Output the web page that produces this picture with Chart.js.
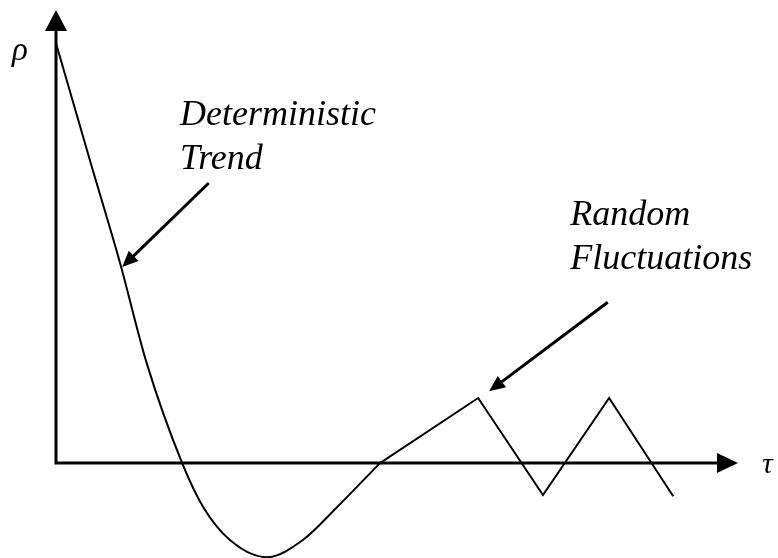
<!DOCTYPE html>
<html>
<head>
<meta charset="utf-8">
<script src="https://cdn.jsdelivr.net/npm/chart.js@4/dist/chart.umd.min.js"></script>
<style>
  html, body { margin: 0; padding: 0; background: #fff; }
  #wrap { width: 778px; height: 558px; }
</style>
</head>
<body>
<div id="wrap"><canvas id="acf"></canvas></div>
<script>
// deterministic trend (smooth part)
const trendTau = [0, 0.51, 0.94, 1.33, 1.85, 2.16, 2.55, 3.09, 3.62, 4.12, 4.75];
const trendRho = [1.0, 0.714, 0.476, 0.238, 0, -0.105, -0.183, -0.224, -0.183, -0.105, 0];

// random fluctuations (straight zigzag)
const fluctTau = [4.75, 6.19, 7.14, 8.11, 9.05];
const fluctRho = [0, 0.155, -0.076, 0.155, -0.079];

// axis ranges
const tauRange = [0, 10];
const rhoRange = [-0.226, 1.079];

// annotation labels and arrows (tail -> tip, in data units)
const labels = [
  { lines: ['Deterministic', 'Trend'], tau: 1.82, rho: 0.805 },
  { lines: ['Random', 'Fluctuations'], tau: 7.54, rho: 0.567 }
];
const pointers = [
  { from: [2.24, 0.667], to: [0.97, 0.467] },
  { from: [8.09, 0.383], to: [6.35, 0.171] }
];

function toXY(tau, rho) {
  return tau.map((t, i) => ({ x: t, y: rho[i] }));
}

function arrowHead(ctx, x1, y1, x2, y2, len, half) {
  const a = Math.atan2(y2 - y1, x2 - x1);
  ctx.beginPath();
  ctx.moveTo(x2, y2);
  ctx.lineTo(x2 - len * Math.cos(a) + half * Math.sin(a), y2 - len * Math.sin(a) - half * Math.cos(a));
  ctx.lineTo(x2 - len * Math.cos(a) - half * Math.sin(a), y2 - len * Math.sin(a) + half * Math.cos(a));
  ctx.closePath();
  ctx.fill();
}

const sketchPlugin = {
  id: 'sketch',
  beforeDatasetsDraw(chart) {
    const ctx = chart.ctx;
    const xs = chart.scales.x, ys = chart.scales.y;
    const x0 = xs.getPixelForValue(0), y0 = ys.getPixelForValue(0);
    const xEnd = xs.getPixelForValue(tauRange[1]), yTop = ys.getPixelForValue(rhoRange[1]);
    ctx.save();
    ctx.strokeStyle = '#000';
    ctx.fillStyle = '#000';
    ctx.lineWidth = 3;
    // axes
    ctx.beginPath();
    ctx.moveTo(x0, y0 + 1.5);
    ctx.lineTo(x0, yTop + 15);
    ctx.moveTo(x0 - 1.5, y0);
    ctx.lineTo(xEnd - 15, y0);
    ctx.stroke();
    arrowHead(ctx, x0, y0, x0, yTop, 21, 11);
    arrowHead(ctx, x0, y0, xEnd, y0, 21, 10);
    ctx.restore();
  },
  afterDatasetsDraw(chart) {
    const ctx = chart.ctx;
    const xs = chart.scales.x, ys = chart.scales.y;
    ctx.save();
    ctx.fillStyle = '#000';
    ctx.strokeStyle = '#000';
    // axis symbols
    ctx.font = 'italic 33px "Liberation Serif", "DejaVu Serif", serif';
    ctx.textBaseline = 'alphabetic';
    ctx.fillText('\u03C1', 12, 60);
    ctx.font = 'italic 30px "Liberation Serif", "DejaVu Serif", serif';
    ctx.fillText('\u03C4', 762, 473);
    // labels
    ctx.font = 'italic 36px "Liberation Serif", serif';
    labels.forEach(l => {
      const px = xs.getPixelForValue(l.tau), py = ys.getPixelForValue(l.rho);
      l.lines.forEach((s, i) => ctx.fillText(s, px, py + i * 44));
    });
    // pointer arrows
    ctx.lineWidth = 3;
    pointers.forEach(p => {
      const x1 = xs.getPixelForValue(p.from[0]), y1 = ys.getPixelForValue(p.from[1]);
      const x2 = xs.getPixelForValue(p.to[0]), y2 = ys.getPixelForValue(p.to[1]);
      const a = Math.atan2(y2 - y1, x2 - x1);
      ctx.beginPath();
      ctx.moveTo(x1, y1);
      ctx.lineTo(x2 - 12 * Math.cos(a), y2 - 12 * Math.sin(a));
      ctx.stroke();
      arrowHead(ctx, x1, y1, x2, y2, 16, 7);
    });
    ctx.restore();
  }
};

new Chart(document.getElementById('acf'), {
  type: 'line',
  data: {
    datasets: [
      { data: toXY(trendTau, trendRho), borderColor: '#000', borderWidth: 2, pointRadius: 0,
        cubicInterpolationMode: 'monotone', fill: false },
      { data: toXY(fluctTau, fluctRho), borderColor: '#000', borderWidth: 2, pointRadius: 0,
        tension: 0, fill: false }
    ]
  },
  options: {
    responsive: true,
    maintainAspectRatio: false,
    animation: false,
    layout: { padding: { left: 56, right: 40, top: 10, bottom: 0 } },
    plugins: { legend: { display: false }, tooltip: { enabled: false } },
    scales: {
      x: { type: 'linear', min: tauRange[0], max: tauRange[1], display: false },
      y: { type: 'linear', min: rhoRange[0], max: rhoRange[1], display: false }
    }
  },
  plugins: [sketchPlugin]
});
</script>
</body>
</html>
